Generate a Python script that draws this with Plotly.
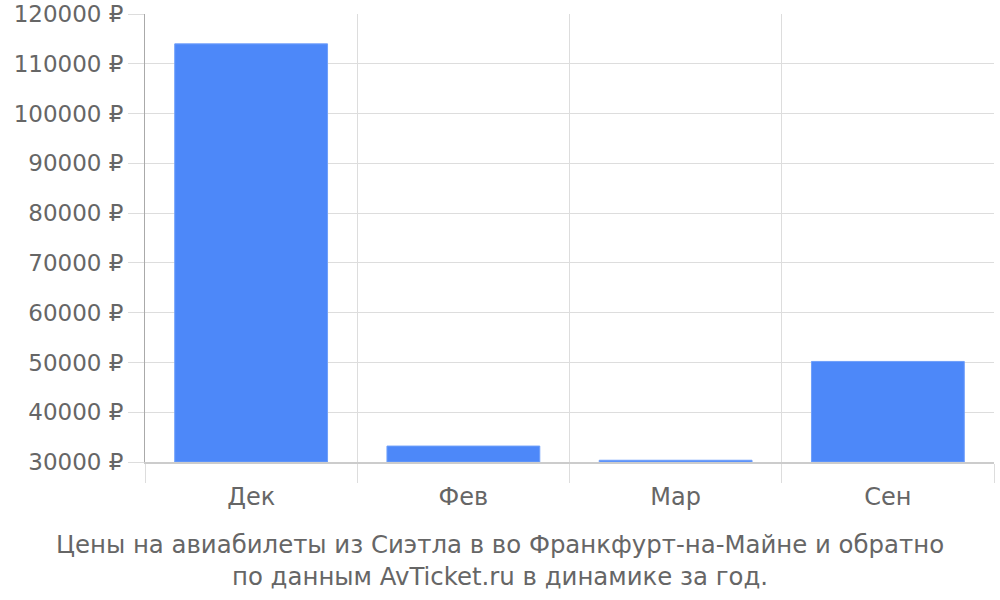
import plotly.graph_objects as go

# месяцы и цены (руб.)
months = ["Дек", "Фев", "Мар", "Сен"]
prices = [114000, 33200, 30350, 50200]
y_ticks = [30000, 40000, 50000, 60000, 70000, 80000, 90000, 100000, 110000, 120000]
y_labels = [f"{v} ₽" for v in y_ticks]

title_text = ("Цены на авиабилеты из Сиэтла в во Франкфурт-на-Майне и обратно"
              "<br>по данным AvTicket.ru в динамике за год.")

base = y_ticks[0]

fig = go.Figure(go.Bar(
    x=months,
    y=[p - base for p in prices],
    base=base,
    marker=dict(color="#4d88f9", line=dict(width=1, color="#6f9ffa")),
    hoverinfo="skip",
))

fig.update_layout(
    width=1000, height=600,
    margin=dict(l=145, r=6, t=14, b=138),
    paper_bgcolor="white",
    plot_bgcolor="white",
    bargap=0.28,
    showlegend=False,
    font=dict(family="DejaVu Sans", size=24, color="#666666"),
    xaxis=dict(
        type="category",
        automargin=False,
        tickson="boundaries",
        ticks="outside", ticklen=19, tickcolor="#dddddd", tickwidth=1,
        ticklabelstandoff=12,
        showgrid=True, gridcolor="#dddddd", gridwidth=1,
        showline=True, linecolor="#cccccc", linewidth=2,
        tickfont=dict(size=24, color="#666666"),
        range=[-0.5, 3.5],
    ),
    yaxis=dict(
        automargin=False,
        ticklabeloverflow="allow",
        range=[30000, 120000],
        tickvals=y_ticks, ticktext=y_labels,
        showgrid=True, gridcolor="#dddddd", gridwidth=1,
        zeroline=False,
        ticks="outside", ticklen=16, tickcolor="#dddddd",
        showline=True, linecolor="#aaaaaa", linewidth=1,
        tickfont=dict(size=23, color="#666666"),
    ),
    annotations=[dict(
        text=title_text, showarrow=False,
        xref="paper", yref="paper", x=0.418, y=-0.148,
        xanchor="center", yanchor="top",
        font=dict(size=24.4, color="#666666"),
    )],
)

# убираем стандартный отступ body, чтобы график стоял в углу окна
fig.write_html("out.html", config={"displayModeBar": False},
               post_script="document.body.style.margin='0';")
